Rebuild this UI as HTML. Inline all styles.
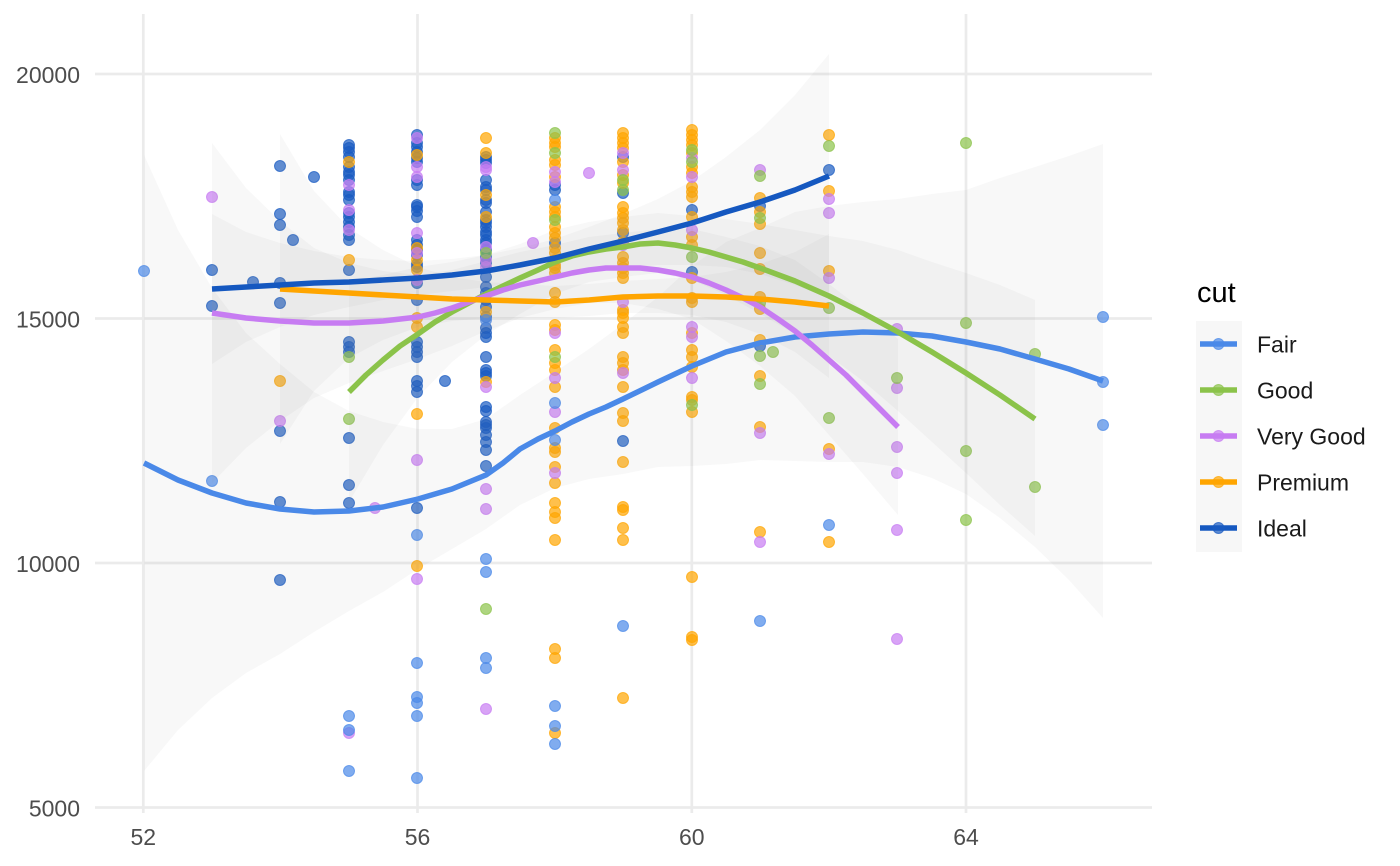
<!DOCTYPE html>
<html>
<head>
<meta charset="utf-8">
<style>
html,body{margin:0;padding:0;background:#fff;}
svg{display:block;}
text{font-family:"Liberation Sans","DejaVu Sans",sans-serif;}
.F{fill:#4A89E8;stroke:#4A89E8;}
.G{fill:#8BC34A;stroke:#8BC34A;}
.V{fill:#C77CF2;stroke:#C77CF2;}
.P{fill:#FFA500;stroke:#FFA500;}
.I{fill:#1A5BC2;stroke:#1A5BC2;}
.pts circle{fill-opacity:.7;stroke-opacity:.7;stroke-width:1;}
.rib{fill:#999;fill-opacity:.065;stroke:none;}
.ln{fill:none;stroke-width:5.5;stroke-linejoin:round;stroke-linecap:butt;}
</style>
</head>
<body>
<svg width="1400" height="866" viewBox="0 0 1400 866" xmlns="http://www.w3.org/2000/svg">
<rect width="1400" height="866" fill="#fff"/>
<!-- grid -->
<g stroke="#ebebeb" stroke-width="2.7">
<line x1="95" y1="74" x2="1152" y2="74"/>
<line x1="95" y1="318.5" x2="1152" y2="318.5"/>
<line x1="95" y1="563" x2="1152" y2="563"/>
<line x1="95" y1="807.5" x2="1152" y2="807.5"/>
<line x1="143.3" y1="14" x2="143.3" y2="813"/>
<line x1="417.5" y1="14" x2="417.5" y2="813"/>
<line x1="691.8" y1="14" x2="691.8" y2="813"/>
<line x1="966" y1="14" x2="966" y2="813"/>
</g>
<!-- axis labels -->
<g fill="#4d4d4d" font-size="23">
<text x="80" y="83" text-anchor="end">20000</text>
<text x="80" y="327.5" text-anchor="end">15000</text>
<text x="80" y="572" text-anchor="end">10000</text>
<text x="80" y="816.5" text-anchor="end">5000</text>
<text x="143.3" y="845" text-anchor="middle">52</text>
<text x="417.5" y="845" text-anchor="middle">56</text>
<text x="691.8" y="845" text-anchor="middle">60</text>
<text x="966" y="845" text-anchor="middle">64</text>
</g>
<!-- points -->
<g class="pts">
<g class="I">
<circle cx="212" cy="270" r="5.5"/><circle cx="212" cy="306" r="5.5"/><circle cx="253" cy="282" r="5.5"/>
<circle cx="280" cy="166" r="5.5"/><circle cx="280" cy="214" r="5.5"/><circle cx="280" cy="225" r="5.5"/><circle cx="280" cy="283" r="5.5"/><circle cx="280" cy="303" r="5.5"/><circle cx="280" cy="431" r="5.5"/><circle cx="280" cy="502" r="5.5"/><circle cx="280" cy="580" r="5.5"/>
<circle cx="293" cy="240" r="5.5"/><circle cx="314" cy="177" r="5.5"/>
<circle cx="349" cy="145" r="5.5"/><circle cx="349" cy="148" r="5.5"/><circle cx="349" cy="152" r="5.5"/><circle cx="349" cy="157" r="5.5"/><circle cx="349" cy="167" r="5.5"/><circle cx="349" cy="172" r="5.5"/><circle cx="349" cy="175" r="5.5"/><circle cx="349" cy="180" r="5.5"/><circle cx="349" cy="192" r="5.5"/><circle cx="349" cy="195" r="5.5"/><circle cx="349" cy="200" r="5.5"/><circle cx="349" cy="213" r="5.5"/><circle cx="349" cy="217" r="5.5"/><circle cx="349" cy="222" r="5.5"/><circle cx="349" cy="227" r="5.5"/><circle cx="349" cy="235" r="5.5"/><circle cx="349" cy="240" r="5.5"/><circle cx="349" cy="270" r="5.5"/><circle cx="349" cy="342" r="5.5"/><circle cx="349" cy="347" r="5.5"/><circle cx="349" cy="352" r="5.5"/><circle cx="349" cy="438" r="5.5"/><circle cx="349" cy="485" r="5.5"/><circle cx="349" cy="503" r="5.5"/>
<circle cx="417" cy="135" r="5.5"/><circle cx="417" cy="143" r="5.5"/><circle cx="417" cy="147" r="5.5"/><circle cx="417" cy="152" r="5.5"/><circle cx="417" cy="158" r="5.5"/><circle cx="417" cy="162" r="5.5"/><circle cx="417" cy="180" r="5.5"/><circle cx="417" cy="185" r="5.5"/><circle cx="417" cy="205" r="5.5"/><circle cx="417" cy="207" r="5.5"/><circle cx="417" cy="211" r="5.5"/><circle cx="417" cy="217" r="5.5"/><circle cx="417" cy="240" r="5.5"/><circle cx="417" cy="245" r="5.5"/><circle cx="417" cy="250" r="5.5"/><circle cx="417" cy="255" r="5.5"/><circle cx="417" cy="264" r="5.5"/><circle cx="417" cy="267" r="5.5"/><circle cx="417" cy="283" r="5.5"/><circle cx="417" cy="300" r="5.5"/><circle cx="417" cy="342" r="5.5"/><circle cx="417" cy="347" r="5.5"/><circle cx="417" cy="352" r="5.5"/><circle cx="417" cy="357" r="5.5"/><circle cx="417" cy="381" r="5.5"/><circle cx="417" cy="386" r="5.5"/><circle cx="417" cy="392" r="5.5"/><circle cx="417" cy="508" r="5.5"/>
<circle cx="445" cy="381" r="5.5"/>
<circle cx="486" cy="157" r="5.5"/><circle cx="486" cy="160" r="5.5"/><circle cx="486" cy="163" r="5.5"/><circle cx="486" cy="180" r="5.5"/><circle cx="486" cy="187" r="5.5"/><circle cx="486" cy="190" r="5.5"/><circle cx="486" cy="200" r="5.5"/><circle cx="486" cy="203" r="5.5"/><circle cx="486" cy="212" r="5.5"/><circle cx="486" cy="220" r="5.5"/><circle cx="486" cy="223" r="5.5"/><circle cx="486" cy="227" r="5.5"/><circle cx="486" cy="232" r="5.5"/><circle cx="486" cy="235" r="5.5"/><circle cx="486" cy="240" r="5.5"/><circle cx="486" cy="243" r="5.5"/><circle cx="486" cy="250" r="5.5"/><circle cx="486" cy="257" r="5.5"/><circle cx="486" cy="263" r="5.5"/><circle cx="486" cy="277" r="5.5"/><circle cx="486" cy="287" r="5.5"/><circle cx="486" cy="293" r="5.5"/><circle cx="486" cy="300" r="5.5"/><circle cx="486" cy="307" r="5.5"/><circle cx="486" cy="317" r="5.5"/><circle cx="486" cy="328" r="5.5"/><circle cx="486" cy="333" r="5.5"/><circle cx="486" cy="337" r="5.5"/><circle cx="486" cy="357" r="5.5"/><circle cx="486" cy="370" r="5.5"/><circle cx="486" cy="373" r="5.5"/><circle cx="486" cy="376" r="5.5"/><circle cx="486" cy="407" r="5.5"/><circle cx="486" cy="411" r="5.5"/><circle cx="486" cy="422" r="5.5"/><circle cx="486" cy="425" r="5.5"/><circle cx="486" cy="428" r="5.5"/><circle cx="486" cy="435" r="5.5"/><circle cx="486" cy="442" r="5.5"/><circle cx="486" cy="450" r="5.5"/><circle cx="486" cy="466" r="5.5"/>
<circle cx="555" cy="185" r="5.5"/><circle cx="555" cy="190" r="5.5"/><circle cx="555" cy="243" r="5.5"/>
<circle cx="623" cy="157" r="5.5"/><circle cx="623" cy="193" r="5.5"/><circle cx="623" cy="233" r="5.5"/><circle cx="623" cy="441" r="5.5"/>
<circle cx="692" cy="210" r="5.5"/><circle cx="692" cy="272" r="5.5"/>
<circle cx="760" cy="206" r="5.5"/><circle cx="760" cy="346" r="5.5"/>
<circle cx="829" cy="170" r="5.5"/>
</g>
<g class="P">
<circle cx="280" cy="381" r="5.5"/><circle cx="349" cy="162" r="5.5"/><circle cx="349" cy="260" r="5.5"/>
<circle cx="417" cy="155" r="5.5"/><circle cx="417" cy="248" r="5.5"/><circle cx="417" cy="260" r="5.5"/><circle cx="417" cy="270" r="5.5"/><circle cx="417" cy="318" r="5.5"/><circle cx="417" cy="327" r="5.5"/><circle cx="417" cy="414" r="5.5"/><circle cx="417" cy="566" r="5.5"/>
<circle cx="486" cy="138" r="5.5"/><circle cx="486" cy="153" r="5.5"/><circle cx="486" cy="195" r="5.5"/><circle cx="486" cy="217" r="5.5"/><circle cx="486" cy="312" r="5.5"/><circle cx="486" cy="382" r="5.5"/>
<circle cx="555" cy="138" r="5.5"/><circle cx="555" cy="143" r="5.5"/><circle cx="555" cy="147" r="5.5"/><circle cx="555" cy="160" r="5.5"/><circle cx="555" cy="165" r="5.5"/><circle cx="555" cy="177" r="5.5"/><circle cx="555" cy="207" r="5.5"/><circle cx="555" cy="212" r="5.5"/><circle cx="555" cy="217" r="5.5"/><circle cx="555" cy="227" r="5.5"/><circle cx="555" cy="233" r="5.5"/><circle cx="555" cy="238" r="5.5"/><circle cx="555" cy="248" r="5.5"/><circle cx="555" cy="253" r="5.5"/><circle cx="555" cy="260" r="5.5"/><circle cx="555" cy="265" r="5.5"/><circle cx="555" cy="268" r="5.5"/><circle cx="555" cy="273" r="5.5"/><circle cx="555" cy="293" r="5.5"/><circle cx="555" cy="302" r="5.5"/><circle cx="555" cy="325" r="5.5"/><circle cx="555" cy="330" r="5.5"/><circle cx="555" cy="350" r="5.5"/><circle cx="555" cy="363" r="5.5"/><circle cx="555" cy="370" r="5.5"/><circle cx="555" cy="387" r="5.5"/><circle cx="555" cy="428" r="5.5"/><circle cx="555" cy="448" r="5.5"/><circle cx="555" cy="452" r="5.5"/><circle cx="555" cy="467" r="5.5"/><circle cx="555" cy="483" r="5.5"/><circle cx="555" cy="503" r="5.5"/><circle cx="555" cy="512" r="5.5"/><circle cx="555" cy="518" r="5.5"/><circle cx="555" cy="540" r="5.5"/><circle cx="555" cy="649" r="5.5"/><circle cx="555" cy="658" r="5.5"/><circle cx="555" cy="733" r="5.5"/>
<circle cx="623" cy="133" r="5.5"/><circle cx="623" cy="138" r="5.5"/><circle cx="623" cy="143" r="5.5"/><circle cx="623" cy="148" r="5.5"/><circle cx="623" cy="162" r="5.5"/><circle cx="623" cy="175" r="5.5"/><circle cx="623" cy="183" r="5.5"/><circle cx="623" cy="207" r="5.5"/><circle cx="623" cy="213" r="5.5"/><circle cx="623" cy="218" r="5.5"/><circle cx="623" cy="223" r="5.5"/><circle cx="623" cy="230" r="5.5"/><circle cx="623" cy="242" r="5.5"/><circle cx="623" cy="257" r="5.5"/><circle cx="623" cy="263" r="5.5"/><circle cx="623" cy="268" r="5.5"/><circle cx="623" cy="273" r="5.5"/><circle cx="623" cy="278" r="5.5"/><circle cx="623" cy="310" r="5.5"/><circle cx="623" cy="313" r="5.5"/><circle cx="623" cy="318" r="5.5"/><circle cx="623" cy="327" r="5.5"/><circle cx="623" cy="333" r="5.5"/><circle cx="623" cy="357" r="5.5"/><circle cx="623" cy="363" r="5.5"/><circle cx="623" cy="370" r="5.5"/><circle cx="623" cy="387" r="5.5"/><circle cx="623" cy="413" r="5.5"/><circle cx="623" cy="421" r="5.5"/><circle cx="623" cy="462" r="5.5"/><circle cx="623" cy="507" r="5.5"/><circle cx="623" cy="510" r="5.5"/><circle cx="623" cy="528" r="5.5"/><circle cx="623" cy="540" r="5.5"/><circle cx="623" cy="698" r="5.5"/>
<circle cx="692" cy="130" r="5.5"/><circle cx="692" cy="135" r="5.5"/><circle cx="692" cy="140" r="5.5"/><circle cx="692" cy="145" r="5.5"/><circle cx="692" cy="153" r="5.5"/><circle cx="692" cy="167" r="5.5"/><circle cx="692" cy="173" r="5.5"/><circle cx="692" cy="187" r="5.5"/><circle cx="692" cy="192" r="5.5"/><circle cx="692" cy="197" r="5.5"/><circle cx="692" cy="217" r="5.5"/><circle cx="692" cy="237" r="5.5"/><circle cx="692" cy="245" r="5.5"/><circle cx="692" cy="278" r="5.5"/><circle cx="692" cy="298" r="5.5"/><circle cx="692" cy="302" r="5.5"/><circle cx="692" cy="333" r="5.5"/><circle cx="692" cy="350" r="5.5"/><circle cx="692" cy="357" r="5.5"/><circle cx="692" cy="367" r="5.5"/><circle cx="692" cy="397" r="5.5"/><circle cx="692" cy="400" r="5.5"/><circle cx="692" cy="412" r="5.5"/><circle cx="692" cy="577" r="5.5"/><circle cx="692" cy="637" r="5.5"/><circle cx="692" cy="640" r="5.5"/>
<circle cx="760" cy="198" r="5.5"/><circle cx="760" cy="212" r="5.5"/><circle cx="760" cy="224" r="5.5"/><circle cx="760" cy="253" r="5.5"/><circle cx="760" cy="269" r="5.5"/><circle cx="760" cy="297" r="5.5"/><circle cx="760" cy="309" r="5.5"/><circle cx="760" cy="340" r="5.5"/><circle cx="760" cy="376" r="5.5"/><circle cx="760" cy="427" r="5.5"/><circle cx="760" cy="532" r="5.5"/>
<circle cx="829" cy="135" r="5.5"/><circle cx="829" cy="191" r="5.5"/><circle cx="829" cy="271" r="5.5"/><circle cx="829" cy="449" r="5.5"/><circle cx="829" cy="542" r="5.5"/>
</g>
<g class="V">
<circle cx="212" cy="197" r="5.5"/><circle cx="280" cy="421" r="5.5"/>
<circle cx="349" cy="185" r="5.5"/><circle cx="349" cy="210" r="5.5"/><circle cx="349" cy="230" r="5.5"/><circle cx="349" cy="733" r="5.5"/><circle cx="375" cy="508" r="5.5"/>
<circle cx="417" cy="138" r="5.5"/><circle cx="417" cy="167" r="5.5"/><circle cx="417" cy="177" r="5.5"/><circle cx="417" cy="233" r="5.5"/><circle cx="417" cy="253" r="5.5"/><circle cx="417" cy="280" r="5.5"/><circle cx="417" cy="460" r="5.5"/><circle cx="417" cy="579" r="5.5"/>
<circle cx="486" cy="167" r="5.5"/><circle cx="486" cy="170" r="5.5"/><circle cx="486" cy="247" r="5.5"/><circle cx="486" cy="260" r="5.5"/><circle cx="486" cy="267" r="5.5"/><circle cx="486" cy="387" r="5.5"/><circle cx="486" cy="489" r="5.5"/><circle cx="486" cy="509" r="5.5"/><circle cx="486" cy="709" r="5.5"/>
<circle cx="533" cy="243" r="5.5"/>
<circle cx="555" cy="172" r="5.5"/><circle cx="555" cy="182" r="5.5"/><circle cx="555" cy="333" r="5.5"/><circle cx="555" cy="378" r="5.5"/><circle cx="555" cy="412" r="5.5"/><circle cx="555" cy="473" r="5.5"/>
<circle cx="589" cy="173" r="5.5"/>
<circle cx="623" cy="153" r="5.5"/><circle cx="623" cy="170" r="5.5"/><circle cx="623" cy="245" r="5.5"/><circle cx="623" cy="302" r="5.5"/><circle cx="623" cy="373" r="5.5"/>
<circle cx="692" cy="158" r="5.5"/><circle cx="692" cy="177" r="5.5"/><circle cx="692" cy="230" r="5.5"/><circle cx="692" cy="327" r="5.5"/><circle cx="692" cy="337" r="5.5"/><circle cx="692" cy="378" r="5.5"/>
<circle cx="760" cy="170" r="5.5"/><circle cx="760" cy="433" r="5.5"/><circle cx="760" cy="542" r="5.5"/>
<circle cx="829" cy="199" r="5.5"/><circle cx="829" cy="213" r="5.5"/><circle cx="829" cy="278" r="5.5"/><circle cx="829" cy="454" r="5.5"/>
<circle cx="897" cy="329" r="5.5"/><circle cx="897" cy="388" r="5.5"/><circle cx="897" cy="447" r="5.5"/><circle cx="897" cy="473" r="5.5"/><circle cx="897" cy="530" r="5.5"/><circle cx="897" cy="639" r="5.5"/>
</g>
<g class="G">
<circle cx="349" cy="357" r="5.5"/><circle cx="349" cy="419" r="5.5"/>
<circle cx="486" cy="253" r="5.5"/><circle cx="486" cy="609" r="5.5"/>
<circle cx="555" cy="133" r="5.5"/><circle cx="555" cy="153" r="5.5"/><circle cx="555" cy="220" r="5.5"/><circle cx="555" cy="357" r="5.5"/>
<circle cx="623" cy="180" r="5.5"/><circle cx="623" cy="190" r="5.5"/>
<circle cx="692" cy="150" r="5.5"/><circle cx="692" cy="162" r="5.5"/><circle cx="692" cy="257" r="5.5"/><circle cx="692" cy="405" r="5.5"/>
<circle cx="760" cy="176" r="5.5"/><circle cx="760" cy="218" r="5.5"/><circle cx="760" cy="303" r="5.5"/><circle cx="760" cy="356" r="5.5"/><circle cx="760" cy="384" r="5.5"/><circle cx="773" cy="352" r="5.5"/>
<circle cx="829" cy="146" r="5.5"/><circle cx="829" cy="308" r="5.5"/><circle cx="829" cy="418" r="5.5"/>
<circle cx="897" cy="378" r="5.5"/>
<circle cx="966" cy="143" r="5.5"/><circle cx="966" cy="323" r="5.5"/><circle cx="966" cy="451" r="5.5"/><circle cx="966" cy="520" r="5.5"/>
<circle cx="1035" cy="354" r="5.5"/><circle cx="1035" cy="487" r="5.5"/>
</g>
<g class="F">
<circle cx="144" cy="271" r="5.5"/><circle cx="212" cy="481" r="5.5"/>
<circle cx="349" cy="716" r="5.5"/><circle cx="349" cy="730" r="5.5"/><circle cx="349" cy="771" r="5.5"/>
<circle cx="417" cy="535" r="5.5"/><circle cx="417" cy="663" r="5.5"/><circle cx="417" cy="697" r="5.5"/><circle cx="417" cy="703" r="5.5"/><circle cx="417" cy="716" r="5.5"/><circle cx="417" cy="778" r="5.5"/>
<circle cx="486" cy="320" r="5.5"/><circle cx="486" cy="559" r="5.5"/><circle cx="486" cy="572" r="5.5"/><circle cx="486" cy="658" r="5.5"/><circle cx="486" cy="668" r="5.5"/>
<circle cx="555" cy="200" r="5.5"/><circle cx="555" cy="403" r="5.5"/><circle cx="555" cy="440" r="5.5"/><circle cx="555" cy="706" r="5.5"/><circle cx="555" cy="726" r="5.5"/><circle cx="555" cy="744" r="5.5"/>
<circle cx="623" cy="626" r="5.5"/><circle cx="760" cy="621" r="5.5"/><circle cx="829" cy="525" r="5.5"/>
<circle cx="1103" cy="317" r="5.5"/><circle cx="1103" cy="382" r="5.5"/><circle cx="1103" cy="425" r="5.5"/>
</g>
</g>
<!-- ribbons -->
<polygon class="rib" points="144,155 178,230 212,288 246,333 280,364 314,392 349,411 383,422 418,429 452,429 486,419 520,395 555,372 589,349 623,324 658,297 692,266 726,242 760,228 795,212 829,206 863,202 898,199 932,194 966,190 1000,178 1035,167 1069,156 1103,144 1103,618 1069,580 1035,547 1000,518 966,494 932,478 898,467 863,462 829,462 795,461 760,460 726,464 692,466 658,467 623,474 589,479 555,488 520,505 486,529 452,549 418,569 383,592 349,611 314,632 280,654 246,673 212,698 178,730 144,771"/>
<polygon class="rib" points="349,282 383,275 418,267 452,262 486,255 520,244 555,230 589,222 623,217 658,213 692,216 726,219 760,224 795,230 829,236 863,241 898,250 932,262 966,273 1000,285 1035,300 1035,536 1000,505 966,473 932,442 898,411 863,381 829,356 795,334 760,314 726,295 692,280 658,273 623,277 589,282 555,294 520,314 486,335 452,362 418,397 383,445 349,502"/>
<polygon class="rib" points="212,143 246,188 280,221 314,248 349,263 383,271 418,275 452,270 486,261 520,252 555,245 589,237 623,233 658,229 692,229 726,237 760,246 795,260 829,284 863,310 898,339 898,515 863,474 829,435 795,396 760,366 726,341 692,319 658,309 623,303 589,303 555,309 520,318 486,331 452,346 418,359 383,371 349,383 314,398 280,421 246,448 212,483"/>
<polygon class="rib" points="280,134 314,191 349,228 383,250 418,267 452,277 486,282 520,284 555,286 589,284 623,281 658,279 692,277 726,272 760,264 795,252 829,234 829,378 795,352 760,334 726,322 692,315 658,313 623,313 589,316 555,318 520,318 486,318 452,321 418,327 383,340 349,358 314,391 280,444"/>
<polygon class="rib" points="212,214 246,232 280,243 314,251 349,257 383,260 418,261 452,259 486,255 520,248 555,239 589,227 623,214 658,199 692,181 726,157 760,130 795,95 829,54 829,298 795,285 760,274 726,267 692,265 658,265 623,268 589,271 555,277 520,282 486,287 452,291 418,295 383,300 349,307 314,315 280,327 246,342 212,364"/>
<!-- smooth lines -->
<polyline class="ln" stroke="#4A89E8" points="144,463 178,480 212,493 246,503 280,509 314,512 349,511 383,507 418,499 452,489 486,475 503,463 520,449 538,439 555,431 572,422 589,414 606,407 623,399 658,382 692,366 726,352 760,343 795,337 829,334 863,332 898,333 932,336 966,342 1000,349 1035,359 1069,369 1103,381"/>
<polyline class="ln" stroke="#8BC34A" points="349,392 366,375 383,360 400,346 418,334 435,322 452,312 469,303 486,294 503,286 520,278 538,270 555,262 572,256 589,252 606,249 623,247 640,244 658,243 675,245 692,248 709,252 726,257 743,262 760,268 795,281 829,296 863,313 898,332 932,352 966,373 1000,395 1035,419"/>
<polyline class="ln" stroke="#C77CF2" points="212,313 246,318 280,321 314,323 349,323 383,321 418,317 435,313 452,308 469,302 486,296 503,290 520,285 538,281 555,277 572,273 589,270 606,268 623,268 640,268 658,270 675,273 692,277 709,283 726,290 743,298 760,307 778,319 795,331 812,345 829,360 846,375 863,392 880,409 898,427"/>
<polyline class="ln" stroke="#FFA500" points="280,289 314,291 349,293 383,295 418,297 452,299 486,300 520,301 555,302 589,300 623,297 658,296 692,296 726,297 760,299 795,302 829,306"/>
<polyline class="ln" stroke="#1558C0" points="212,289 246,287 280,285 314,283 349,282 383,280 418,278 452,275 486,271 520,265 555,258 589,249 623,241 658,232 692,223 726,212 760,202 795,190 829,176"/>
<!-- legend -->
<text x="1197" y="302" font-size="29" fill="#000">cut</text>
<rect x="1196" y="321" width="46" height="231" fill="#f7f7f7"/>
<g stroke-width="5.5">
<line x1="1200" y1="344" x2="1237" y2="344" stroke="#4A89E8"/>
<line x1="1200" y1="390" x2="1237" y2="390" stroke="#8BC34A"/>
<line x1="1200" y1="436" x2="1237" y2="436" stroke="#C77CF2"/>
<line x1="1200" y1="482" x2="1237" y2="482" stroke="#FFA500"/>
<line x1="1200" y1="528" x2="1237" y2="528" stroke="#1558C0"/>
</g>
<g class="pts">
<circle class="F" cx="1218.5" cy="344" r="5.5"/>
<circle class="G" cx="1218.5" cy="390" r="5.5"/>
<circle class="V" cx="1218.5" cy="436" r="5.5"/>
<circle class="P" cx="1218.5" cy="482" r="5.5"/>
<circle class="I" cx="1218.5" cy="528" r="5.5"/>
</g>
<g font-size="23" fill="#1a1a1a">
<text x="1257" y="352.5">Fair</text>
<text x="1257" y="398.5">Good</text>
<text x="1257" y="444.5">Very Good</text>
<text x="1257" y="490.5">Premium</text>
<text x="1257" y="536.5">Ideal</text>
</g>
</svg>
</body>
</html>
